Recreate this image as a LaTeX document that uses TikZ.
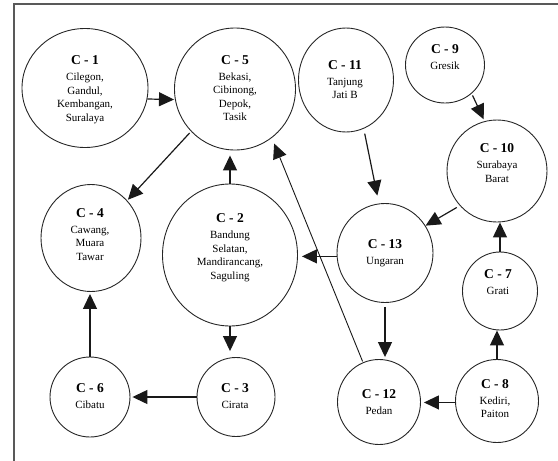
\documentclass[tikz,border=0pt]{standalone}
\usepackage{fontspec}
\setmainfont{Liberation Serif}
\usetikzlibrary{arrows.meta,shapes.geometric}
\tikzset{
  cnode/.style={ellipse,draw=black!85,line width=0.9pt,inner sep=0pt},
  ctext/.style={align=center,font=\fontsize{11}{13.5}\selectfont,inner sep=0pt},
  arr/.style={draw=black!90,line width=1.2pt,-{Triangle[length=15pt,width=14pt]}},
  thin arr/.style={arr,line width=0.9pt}
}
\newcommand{\ctitle}[1]{{\fontsize{13.5}{13.5}\selectfont\bfseries #1}\\[2.5pt]}
\begin{document}
\begin{tikzpicture}[x=1pt,y=-1pt]
\useasboundingbox (0,0) rectangle (558,461);
% frame
\draw[draw=black!65,line width=1.6pt] (14,461) -- (14,4) -- (558,4);
% circles
\node[cnode,minimum width=126,minimum height=119] (c1) at (85,88) {};
\node[cnode,minimum width=121,minimum height=122] (c5) at (235,89) {};
\node[cnode,minimum width=95,minimum height=104] (c11) at (346,80) {};
\node[cnode,minimum width=79,minimum height=76] (c9) at (445,65) {};
\node[cnode,minimum width=100,minimum height=102] (c10) at (497,171) {};
\node[cnode,minimum width=100,minimum height=107] (c4) at (91,238) {};
\node[cnode,minimum width=135,minimum height=142] (c2) at (230,255) {};
\node[cnode,minimum width=78,minimum height=79] (c3) at (236,397) {};
\node[cnode,minimum width=80,minimum height=80] (c6) at (90,397) {};
\node[cnode,minimum width=96,minimum height=99] (c13) at (385,253) {};
\node[cnode,minimum width=83,minimum height=85] (c12) at (379,402) {};
\node[cnode,minimum width=83,minimum height=83] (c8) at (497,401) {};
\node[cnode,minimum width=75,minimum height=78] (c7) at (500,291) {};
% texts
\node[ctext] (t1) at (85,89.5) {\ctitle{C - 1}Cilegon,\\Gandul,\\Kembangan,\\Suralaya};
\node[ctext] (t5) at (235,88) {\ctitle{C - 5}Bekasi,\\Cibinong,\\Depok,\\Tasik};
\node[ctext] (t11) at (345,79.5) {\ctitle{C - 11}Tanjung\\Jati B};
\node[ctext] (t9) at (445,57.5) {\ctitle{C - 9}Gresik};
\node[ctext] (t10) at (497,163) {\ctitle{C - 10}Surabaya\\Barat};
\node[ctext] (t4) at (90,234.5) {\ctitle{C - 4}Cawang,\\Muara\\Tawar};
\node[ctext] (t2) at (230,247.5) {\ctitle{C - 2}Bandung\\Selatan,\\Mandirancang,\\Saguling};
\node[ctext] (t13) at (385,253.5) {\ctitle{C - 13}Ungaran};
\node[ctext] (t6) at (90,396) {\ctitle{C - 6}Cibatu};
\node[ctext] (t3) at (235,396.5) {\ctitle{C - 3}Cirata};
\node[ctext] (t12) at (379,402.5) {\ctitle{C - 12}Pedan};
\node[ctext] (t8) at (495,398.5) {\ctitle{C - 8}Kediri,\\Paiton};
\node[ctext] (t7) at (498,282.5) {\ctitle{C - 7}Grati};
% connectors
\draw[arr,shorten >=1] (c1.-10) -- (c5.190);
\draw[arr,shorten <=2,shorten >=1] (c5.224) -- (c4.46);
\draw[arr,shorten >=5] (c2.north) -- (c2.north |- c5.south);
\draw[thin arr,shorten >=6,shorten <=1] (c12.112) -- (c5.-53.5);
\draw[arr,shorten <=5,shorten >=8] (c11.-70) -- (c13.97);
\draw[arr,shorten <=2,shorten >=2] (c9.-47) -- (c10.104);
\draw[arr,shorten <=3.5] (c10.223.5) -- (c13.34);
\draw[arr,shorten >=4] (c13.184) -- (c13.184 -| c2.east);
\draw[arr,shorten >=6] (c2.south) -- (c2.south |- c3.north);
\draw[arr,shorten >=2] (c3.west) -- (c3.west -| c6.east);
\draw[arr,shorten >=2] (c6.north) -- (c6.north |- c4.south);
\draw[arr,shorten <=4,shorten >=2] (c13.south) -- (c13.south |- c12.north);
\draw[arr,shorten >=3] (c8.182) -- (c8.182 -| c12.east);
\draw[arr] (c8.north) -- (c8.north |- c7.south);
\draw[arr] (c7.north) -- (c7.north |- c10.south);
\end{tikzpicture}
\end{document}
